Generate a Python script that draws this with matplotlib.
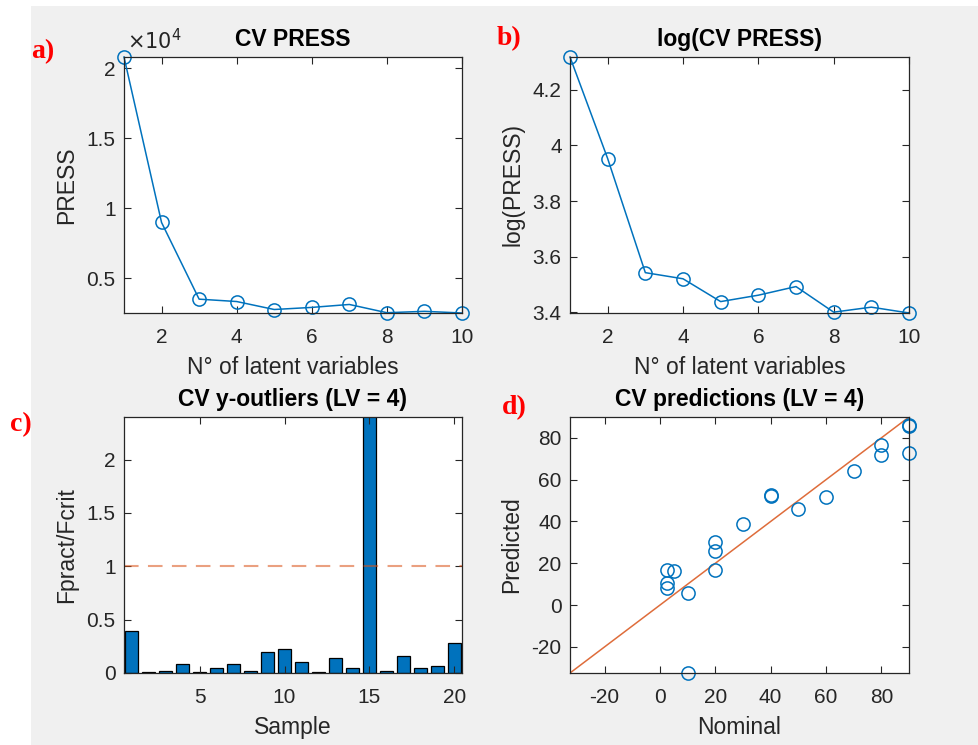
import matplotlib
matplotlib.use("Agg")
import matplotlib.pyplot as plt
from matplotlib.patches import Rectangle

# ---------------- data ----------------
n_lv = [1, 2, 3, 4, 5, 6, 7, 8, 9, 10]
press = [20800, 8970, 3490, 3320, 2750, 2900, 3110, 2520, 2620, 2500]
log_press = [4.318, 3.953, 3.543, 3.521, 3.439, 3.462, 3.493, 3.401, 3.419, 3.398]
press_ticks = [5000, 10000, 15000, 20000]
press_ticklabels = ["0.5", "1", "1.5", "2"]

samples = list(range(1, 21))
f_ratio = [0.394, 0.012, 0.02, 0.088, 0.01, 0.044, 0.088, 0.02, 0.194, 0.225,
           0.10, 0.01, 0.14, 0.044, 3.5, 0.02, 0.163, 0.044, 0.069, 0.278]
f_limit = 1.0

nominal = [2.5, 5, 2.5, 2.5, 10, 10, 20, 20, 20, 30,
           40, 40, 50, 60, 70, 80, 80, 90, 90, 90]
predicted = [17.0, 16.2, 10.5, 8.2, 6.0, -32.3, 30.4, 26.1, 16.7, 38.7,
             52.9, 52.3, 46.0, 51.8, 64.0, 76.7, 71.8, 86.2, 85.6, 72.7]
diag_lim = [-32.5, 90]

titles = ["CV PRESS", "log(CV PRESS)", "CV y-outliers (LV = 4)", "CV predictions (LV = 4)"]
panel_letters = ["a)", "b)", "c)", "d)"]

# ---------------- style ----------------
BLUE = "#0072BD"
ORANGE = "#D95319"
TXT = "#262626"
plt.rcParams["font.family"] = ["Liberation Sans", "DejaVu Sans"]
plt.rcParams["axes.unicode_minus"] = False
plt.rcParams["axes.edgecolor"] = TXT
plt.rcParams["xtick.color"] = TXT
plt.rcParams["ytick.color"] = TXT
plt.rcParams["axes.labelcolor"] = TXT

W, H = 979, 745
fig = plt.figure(figsize=(W / 100, H / 100), dpi=100, facecolor="white")
fig.patches.append(Rectangle((31 / W, 0), 1 - 31 / W, 1 - 6 / H, transform=fig.transFigure,
                             facecolor="#F0F0F0", edgecolor="none", zorder=-10))


def make_ax(l, t, r, b):
    return fig.add_axes([l / W, 1 - b / H, (r - l) / W, (b - t) / H])


axa = make_ax(124, 57, 462, 313)
axb = make_ax(570, 57, 909, 313)
axc = make_ax(124, 417, 462, 673)
axd = make_ax(570, 417, 909, 673)

TICK_FS = 15
LAB_FS = 16.5
TIT_FS = 16.5

for ax in (axa, axb, axc, axd):
    ax.set_facecolor("white")
    ax.tick_params(direction="in", top=True, right=True, length=5, width=0.8,
                   labelsize=TICK_FS, labelcolor=TXT)
    ax.tick_params(axis="x", pad=11)
    ax.tick_params(axis="y", pad=6)
    for s in ax.spines.values():
        s.set_linewidth(0.9)

LW = 1.1
MS = 9.5
MEW = 1.1
XLP = 6

# a) PRESS
axa.plot(n_lv, press, "-o", color=BLUE, lw=LW, markersize=MS, mfc="none", mew=MEW, clip_on=False)
axa.set_xlim(1, 10)
axa.set_ylim(min(press), max(press))
axa.set_xticks([2, 4, 6, 8, 10])
axa.set_yticks(press_ticks)
axa.set_yticklabels(press_ticklabels)
axa.text(0.008, 1.015, r"$\times10^{4}$", transform=axa.transAxes, fontsize=TICK_FS,
         color=TXT, ha="left", va="bottom")
axa.set_xlabel("N° of latent variables", fontsize=LAB_FS, labelpad=XLP)
axa.set_ylabel("PRESS", fontsize=LAB_FS, labelpad=6)
axa.set_title(titles[0], fontsize=TIT_FS, fontweight="bold", pad=8)

# b) log PRESS
axb.plot(n_lv, log_press, "-o", color=BLUE, lw=LW, markersize=MS, mfc="none", mew=MEW, clip_on=False)
axb.set_xlim(1, 10)
axb.set_ylim(min(log_press), max(log_press))
axb.set_xticks([2, 4, 6, 8, 10])
axb.set_yticks([3.4, 3.6, 3.8, 4.0, 4.2])
axb.set_yticklabels(["3.4", "3.6", "3.8", "4", "4.2"])
axb.set_xlabel("N° of latent variables", fontsize=LAB_FS, labelpad=XLP)
axb.set_ylabel("log(PRESS)", fontsize=LAB_FS, labelpad=6)
axb.set_title(titles[1], fontsize=TIT_FS, fontweight="bold", pad=8)

# c) y-outliers
axc.bar(samples, f_ratio, width=0.8, color=BLUE, edgecolor="black", linewidth=0.9)
axc.axhline(f_limit, color=ORANGE, lw=1.5, ls=(0, (7, 4.5)), alpha=0.55)
axc.set_xlim(0.55, 20.45)
axc.set_ylim(0, 2.4)
axc.set_xticks([5, 10, 15, 20])
axc.set_yticks([0, 0.5, 1, 1.5, 2])
axc.set_yticklabels(["0", "0.5", "1", "1.5", "2"])
axc.set_xlabel("Sample", fontsize=LAB_FS, labelpad=XLP)
axc.set_ylabel("Fpract/Fcrit", fontsize=LAB_FS, labelpad=6)
axc.set_title(titles[2], fontsize=TIT_FS, fontweight="bold", pad=8)

# d) predictions
axd.plot(diag_lim, diag_lim, "-", color=ORANGE, lw=LW, alpha=0.85)
axd.plot(nominal, predicted, "o", color=BLUE, markersize=MS, mfc="none", mew=MEW, clip_on=False)
axd.set_xlim(*diag_lim)
axd.set_ylim(*diag_lim)
axd.set_xticks([-20, 0, 20, 40, 60, 80])
axd.set_yticks([-20, 0, 20, 40, 60, 80])
axd.set_xlabel("Nominal", fontsize=LAB_FS, labelpad=XLP)
axd.set_ylabel("Predicted", fontsize=LAB_FS, labelpad=6)
axd.set_title(titles[3], fontsize=TIT_FS, fontweight="bold", pad=8)

# panel letters
letter_pos = [(31, 52), (497, 39), (10, 425), (502, 408)]
for lab, (x, y) in zip(panel_letters, letter_pos):
    fig.text(x / W, 1 - y / H, lab, color="red", fontsize=20, fontweight="bold",
             family=["Liberation Serif", "DejaVu Serif"], ha="left", va="center")

fig.savefig("out.png", dpi=100, facecolor=fig.get_facecolor())
